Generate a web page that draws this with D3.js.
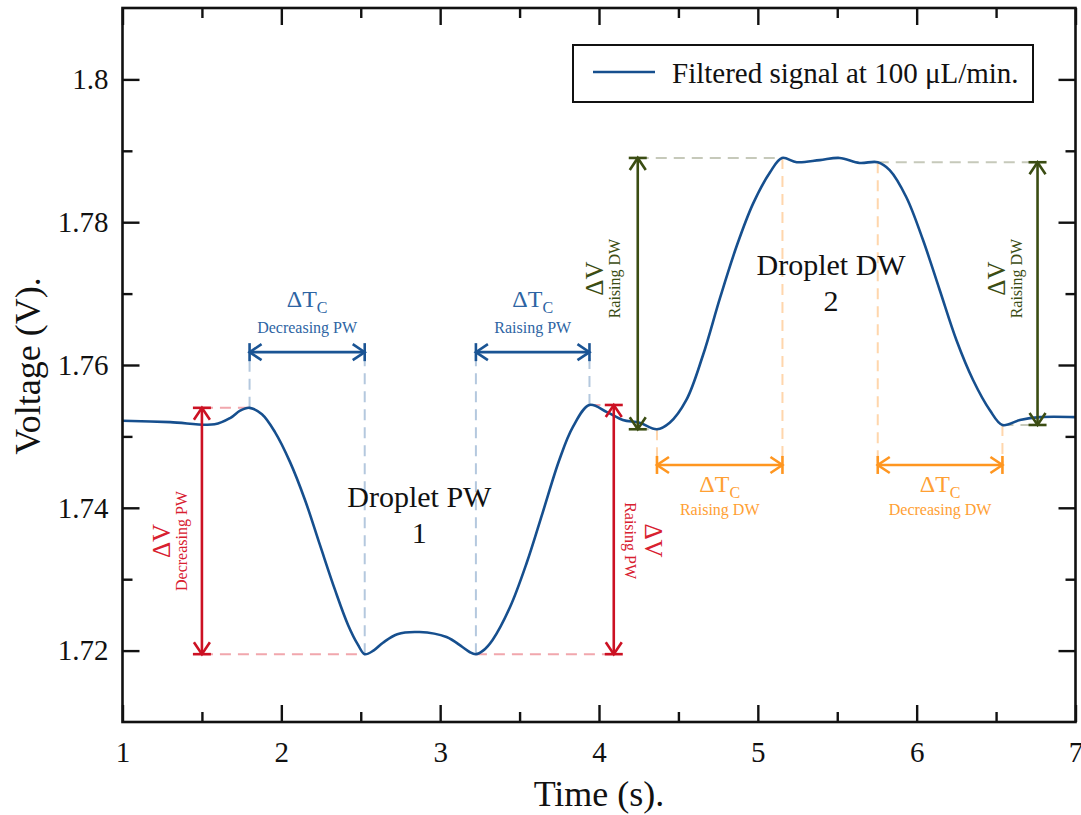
<!DOCTYPE html>
<html>
<head>
<meta charset="utf-8">
<script src="https://cdn.jsdelivr.net/npm/d3@7"></script>
<style>
  html, body { margin: 0; padding: 0; background: #ffffff; }
  svg text { font-family: "Liberation Serif", "Times New Roman", Times, serif; }
</style>
</head>
<body>
<svg id="chart" width="1081" height="815"></svg>
<script>
// Filtered voltage signal (V) against time (s)
const timeSec = [1.00, 1.30, 1.58, 1.68, 1.74, 1.80, 1.878, 1.96, 2.055, 2.149, 2.243, 2.338, 2.42, 2.483, 2.525, 2.58,
  2.64, 2.73, 2.87, 3.04, 3.14, 3.185, 3.225, 3.27, 3.33, 3.44, 3.545, 3.645, 3.75, 3.835, 3.94, 4.05, 4.15, 4.255,
  4.365, 4.445, 4.55, 4.655, 4.762, 4.869, 4.97, 5.077, 5.152, 5.245, 5.39, 5.515, 5.64, 5.755, 5.83,
  5.935, 6.04, 6.145, 6.25, 6.355, 6.46, 6.54, 6.65, 6.775, 7.00];
const voltage = [1.7522, 1.7520, 1.7517, 1.7526, 1.7536, 1.7540, 1.7531, 1.7506, 1.7464, 1.7411, 1.7348, 1.7285, 1.7236, 1.7208, 1.7195, 1.7200,
  1.7211, 1.7223, 1.7226, 1.7219, 1.7205, 1.7198, 1.7195, 1.7200, 1.7215, 1.7261, 1.7323, 1.7393, 1.7467, 1.7513, 1.7544, 1.7534, 1.7523, 1.7519,
  1.7510, 1.7519, 1.7551, 1.7614, 1.7694, 1.7768, 1.7826, 1.7870, 1.7890, 1.7884, 1.7887, 1.7890, 1.7883, 1.7884, 1.7873,
  1.7835, 1.7775, 1.7705, 1.7635, 1.7579, 1.7537, 1.7516, 1.7523, 1.7527, 1.7527];

// Axis ticks
const xMajorTicks = [1, 2, 3, 4, 5, 6, 7];
const xMinorTicks = [1.5, 2.5, 3.5, 4.5, 5.5, 6.5];
const yMajorTicks = [1.72, 1.74, 1.76, 1.78, 1.80];
const yMinorTicks = [1.73, 1.75, 1.77, 1.79];
const yTickLabels = ["1.72", "1.74", "1.76", "1.78", "1.8"];

// Characteristic points of the two droplets [time, voltage]
const peakPW1 = [1.80, 1.7540];
const minPW1 = [2.525, 1.7195];
const minPW2 = [3.225, 1.7195];
const peakPW2 = [3.94, 1.7544];
const baseDW1 = [4.365, 1.7510];
const topDW1 = [5.155, 1.7890];
const topDW2 = [5.755, 1.7884];
const baseDW2 = [6.54, 1.7516];

// Voltage-step arrows: time position of each arrow
const dvTimes = [1.50, 4.093, 4.244, 6.761];
const dvNames = ["Decreasing PW", "Raising PW", "Raising DW", "Raising DW"];
// Time-interval arrows: voltage level
const dtLevelPW = 1.7618;
const dtLevelDW = 1.7460;
const dtNames = ["Decreasing PW", "Raising PW", "Raising DW", "Decreasing DW"];

const legendText = "Filtered signal at 100 \u03bcL/min.";

const colors = {
  signal: "#164f8e",
  blue: "#1a5494", blueText: "#2d64a3", blueDash: "#b4c8de",
  red: "#cc1123", redText: "#d8202f", redDash: "#f1a7ad",
  green: "#3b4d13", greenText: "#3b4d13", greenDash: "#c6c9ba",
  orange: "#ff9620", orangeText: "#ffa033", orangeDash: "#ffd6ac"
};

const svg = d3.select("#chart");
const x = d3.scaleLinear().domain([1, 7]).range([122.5, 1075.5]);
const y = d3.scaleLinear().domain([1.71, 1.81]).range([722, 8]);

// ---------- dashed guide lines ----------
const guides = svg.append("g").attr("fill", "none").attr("stroke-width", 2).attr("stroke-dasharray", "11,7");
function guide(x1, y1, x2, y2, color) {
  guides.append("line").attr("x1", x1).attr("y1", y1).attr("x2", x2).attr("y2", y2).attr("stroke", color);
}

// blue: time intervals of droplet PW
guide(x(peakPW1[0]), y(peakPW1[1]), x(peakPW1[0]), y(dtLevelPW), colors.blueDash);
guide(x(minPW1[0]), y(minPW1[1]), x(minPW1[0]), y(dtLevelPW), colors.blueDash);
guide(x(minPW2[0]), y(minPW2[1]), x(minPW2[0]), y(dtLevelPW), colors.blueDash);
guide(x(peakPW2[0]), y(peakPW2[1]), x(peakPW2[0]), y(dtLevelPW), colors.blueDash);
// red: voltage levels of droplet PW
guide(x(dvTimes[0]), y(peakPW1[1]), x(peakPW1[0]), y(peakPW1[1]), colors.redDash);
guide(x(dvTimes[0]), y(minPW1[1]), x(minPW1[0]), y(minPW1[1]), colors.redDash);
guide(x(minPW2[0]), y(minPW2[1]), x(dvTimes[1]), y(minPW2[1]), colors.redDash);
guide(x(peakPW2[0]), y(peakPW2[1]), x(dvTimes[1]), y(peakPW2[1]), colors.redDash);
// green: voltage levels of droplet DW
guide(x(dvTimes[2]), y(topDW1[1]), x(topDW1[0]), y(topDW1[1]), colors.greenDash);
guide(x(dvTimes[2]), y(baseDW1[1]), x(baseDW1[0]), y(baseDW1[1]), colors.greenDash);
guide(x(topDW2[0]), y(topDW2[1]), x(dvTimes[3]), y(topDW2[1]), colors.greenDash);
guide(x(baseDW2[0]), y(baseDW2[1]), x(dvTimes[3]), y(baseDW2[1]), colors.greenDash);
// orange: time intervals of droplet DW
guide(x(baseDW1[0]), y(baseDW1[1]), x(baseDW1[0]), y(dtLevelDW), colors.orangeDash);
guide(x(topDW1[0]), y(topDW1[1]), x(topDW1[0]), y(dtLevelDW), colors.orangeDash);
guide(x(topDW2[0]), y(topDW2[1]), x(topDW2[0]), y(dtLevelDW), colors.orangeDash);
guide(x(baseDW2[0]), y(baseDW2[1]), x(baseDW2[0]), y(dtLevelDW), colors.orangeDash);

// ---------- signal ----------
const series = timeSec.map((t, i) => [t, voltage[i]]);
const line = d3.line().x(d => x(d[0])).y(d => y(d[1])).curve(d3.curveCatmullRom.alpha(0.5));
svg.append("path").datum(series)
  .attr("d", line).attr("fill", "none")
  .attr("stroke", colors.signal).attr("stroke-width", 2.6)
  .attr("stroke-linejoin", "round");

// ---------- double-headed arrows ----------
const arrows = svg.append("g").attr("fill", "none").attr("stroke-width", 2.6)
  .attr("stroke-linecap", "butt").attr("stroke-linejoin", "miter");
function head(g, tx, ty, ux, uy, color) {
  const nx = -uy, ny = ux;
  const L = 12, W = 8, B = 9;
  g.append("path")
    .attr("d", `M${tx - L * ux + W * nx},${ty - L * uy + W * ny}L${tx},${ty}L${tx - L * ux - W * nx},${ty - L * uy - W * ny}`)
    .attr("stroke", color);
  g.append("line")
    .attr("x1", tx + B * nx).attr("y1", ty + B * ny)
    .attr("x2", tx - B * nx).attr("y2", ty - B * ny)
    .attr("stroke", color);
}
function dblArrow(x1, y1, x2, y2, color) {
  const len = Math.hypot(x2 - x1, y2 - y1);
  const ux = (x2 - x1) / len, uy = (y2 - y1) / len;
  arrows.append("line").attr("x1", x1).attr("y1", y1).attr("x2", x2).attr("y2", y2).attr("stroke", color);
  head(arrows, x2, y2, ux, uy, color);
  head(arrows, x1, y1, -ux, -uy, color);
}

dblArrow(x(peakPW1[0]), y(dtLevelPW), x(minPW1[0]), y(dtLevelPW), colors.blue);
dblArrow(x(minPW2[0]), y(dtLevelPW), x(peakPW2[0]), y(dtLevelPW), colors.blue);
dblArrow(x(baseDW1[0]), y(dtLevelDW), x(topDW1[0]), y(dtLevelDW), colors.orange);
dblArrow(x(topDW2[0]), y(dtLevelDW), x(baseDW2[0]), y(dtLevelDW), colors.orange);
dblArrow(x(dvTimes[0]), y(peakPW1[1]), x(dvTimes[0]), y(minPW1[1]), colors.red);
dblArrow(x(dvTimes[1]), y(peakPW2[1]), x(dvTimes[1]), y(minPW2[1]), colors.red);
dblArrow(x(dvTimes[2]), y(topDW1[1]), x(dvTimes[2]), y(baseDW1[1]), colors.green);
dblArrow(x(dvTimes[3]), y(topDW2[1]), x(dvTimes[3]), y(baseDW2[1]), colors.green);

// ---------- annotation labels ----------
const labels = svg.append("g");
function dtLabel(cx, arrowY, mainOff, subOff, name, color) {
  const t = labels.append("text").attr("x", cx).attr("y", arrowY + mainOff)
    .attr("text-anchor", "middle").attr("fill", color).attr("font-size", 24);
  t.append("tspan").text("\u0394T");
  t.append("tspan").attr("font-size", 16).attr("dy", 6).text("C");
  labels.append("text").attr("x", cx).attr("y", arrowY + subOff)
    .attr("text-anchor", "middle").attr("fill", color).attr("font-size", 16).text(name);
}
dtLabel((x(peakPW1[0]) + x(minPW1[0])) / 2, y(dtLevelPW), -45, -19, dtNames[0], colors.blueText);
dtLabel((x(minPW2[0]) + x(peakPW2[0])) / 2, y(dtLevelPW), -45, -19, dtNames[1], colors.blueText);
dtLabel((x(baseDW1[0]) + x(topDW1[0])) / 2, y(dtLevelDW), 27, 50, dtNames[2], colors.orangeText);
dtLabel((x(topDW2[0]) + x(baseDW2[0])) / 2, y(dtLevelDW), 27, 50, dtNames[3], colors.orangeText);

function dvLabel(ax, midY, angle, along, mainOff, subOff, name, color) {
  const g = labels.append("g").attr("transform", `translate(${ax},${midY}) rotate(${angle})`);
  g.append("text").attr("x", along).attr("y", mainOff).attr("text-anchor", "middle")
    .attr("fill", color).attr("font-size", 25).text("\u0394V");
  g.append("text").attr("x", along).attr("y", subOff).attr("text-anchor", "middle")
    .attr("fill", color).attr("font-size", 16).text(name);
}
dvLabel(x(dvTimes[0]), (y(peakPW1[1]) + y(minPW1[1])) / 2, -90, -10, -32, -15, dvNames[0], colors.redText);
dvLabel(x(dvTimes[1]), (y(peakPW2[1]) + y(minPW2[1])) / 2, 90, 11, -31, -11, dvNames[1], colors.redText);
dvLabel(x(dvTimes[2]), (y(topDW1[1]) + y(baseDW1[1])) / 2, -90, 15, -35, -18, dvNames[2], colors.greenText);
dvLabel(x(dvTimes[3]), (y(topDW2[1]) + y(baseDW2[1])) / 2, -90, 15, -33, -16, dvNames[3], colors.greenText);

// droplet names
function dropletLabel(cx, by, l1, l2) {
  labels.append("text").attr("x", cx).attr("y", by).attr("text-anchor", "middle")
    .attr("font-size", 30).attr("fill", "#111").text(l1);
  labels.append("text").attr("x", cx).attr("y", by + 36).attr("text-anchor", "middle")
    .attr("font-size", 30).attr("fill", "#111").text(l2);
}
dropletLabel((x(minPW1[0]) + x(minPW2[0])) / 2 - 1, 507, "Droplet PW", "1");
dropletLabel((x(topDW1[0]) + x(topDW2[0])) / 2 + 1, 275, "Droplet DW", "2");

// ---------- axes ----------
function styleAxis(g) {
  g.select(".domain").remove();
  g.selectAll(".tick line").attr("stroke", "#111").attr("stroke-width", 2.4);
  g.selectAll(".tick text").attr("fill", "#111").attr("font-size", 29);
}
svg.append("g").attr("transform", "translate(0,722)")
  .call(d3.axisBottom(x).tickValues(xMajorTicks).tickSize(-17).tickPadding(19).tickFormat(d3.format("d")))
  .call(styleAxis);
svg.append("g").attr("transform", "translate(0,722)")
  .call(d3.axisBottom(x).tickValues(xMinorTicks).tickSize(-10).tickFormat(""))
  .call(styleAxis);
svg.append("g").attr("transform", "translate(0,8)")
  .call(d3.axisTop(x).tickValues(xMajorTicks).tickSize(-17).tickFormat(""))
  .call(styleAxis);
svg.append("g").attr("transform", "translate(0,8)")
  .call(d3.axisTop(x).tickValues(xMinorTicks).tickSize(-10).tickFormat(""))
  .call(styleAxis);
svg.append("g").attr("transform", "translate(122.5,0)")
  .call(d3.axisLeft(y).tickValues(yMajorTicks).tickSize(-17).tickPadding(14)
    .tickFormat((d, i) => yTickLabels[i]))
  .call(styleAxis);
svg.append("g").attr("transform", "translate(122.5,0)")
  .call(d3.axisLeft(y).tickValues(yMinorTicks).tickSize(-10).tickFormat(""))
  .call(styleAxis);
svg.append("g").attr("transform", "translate(1075.5,0)")
  .call(d3.axisRight(y).tickValues(yMajorTicks).tickSize(-17).tickFormat(""))
  .call(styleAxis);
svg.append("g").attr("transform", "translate(1075.5,0)")
  .call(d3.axisRight(y).tickValues(yMinorTicks).tickSize(-10).tickFormat(""))
  .call(styleAxis);

// frame
svg.append("rect").attr("x", 122.5).attr("y", 8).attr("width", 953).attr("height", 714)
  .attr("fill", "none").attr("stroke", "#111").attr("stroke-width", 2.6);

// axis titles
svg.append("text").attr("x", 599).attr("y", 806).attr("text-anchor", "middle")
  .attr("font-size", 36).attr("fill", "#111").text("Time (s).");
svg.append("text").attr("transform", "translate(40,366) rotate(-90)").attr("text-anchor", "middle")
  .attr("font-size", 36).attr("fill", "#111").text("Voltage (V).");

// ---------- legend ----------
const legend = svg.append("g");
legend.append("rect").attr("x", 573).attr("y", 45).attr("width", 460).attr("height", 57)
  .attr("fill", "#fff").attr("stroke", "#111").attr("stroke-width", 2);
legend.append("line").attr("x1", 593).attr("x2", 655).attr("y1", 72).attr("y2", 72)
  .attr("stroke", colors.signal).attr("stroke-width", 2.6);
legend.append("text").attr("x", 672).attr("y", 83).attr("font-size", 29).attr("fill", "#111")
  .text(legendText);
</script>
</body>
</html>
